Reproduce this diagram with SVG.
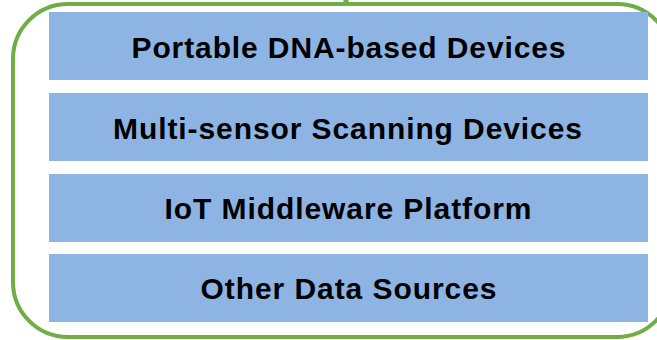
<svg xmlns="http://www.w3.org/2000/svg" width="657" height="340" viewBox="0 0 657 340">
<style>
.bar{fill:#8EB4E3;}
.lbl{font-family:"Liberation Sans",Arial,sans-serif;font-weight:bold;font-size:30px;fill:#000;text-anchor:middle;}
</style>
<rect width="657" height="340" fill="#fff"/>
<g id="connectors">
<line x1="346" y1="0" x2="346" y2="5" stroke="#70AD47" stroke-width="5"/>
</g>
<g id="container">
<rect x="13" y="4" width="659" height="333" rx="55" ry="55" fill="none" stroke="#70AD47" stroke-width="4"/>
</g>
<g id="portable">
<rect class="bar" x="49" y="12" width="599" height="68"/>
<text class="lbl" x="348.5" y="57.5" textLength="434" lengthAdjust="spacing">Portable DNA-based Devices</text>
</g>
<g id="multisensor">
<rect class="bar" x="49" y="93" width="599" height="68"/>
<text class="lbl" x="347.5" y="138.5" textLength="469" lengthAdjust="spacing">Multi-sensor Scanning Devices</text>
</g>
<g id="iot">
<rect class="bar" x="49" y="174" width="599" height="68"/>
<text class="lbl" x="348" y="218.5" textLength="367" lengthAdjust="spacing">IoT Middleware Platform</text>
</g>
<g id="other">
<rect class="bar" x="49" y="254" width="599" height="68"/>
<text class="lbl" x="348.5" y="298.5" textLength="296" lengthAdjust="spacing">Other Data Sources</text>
</g>
</svg>
